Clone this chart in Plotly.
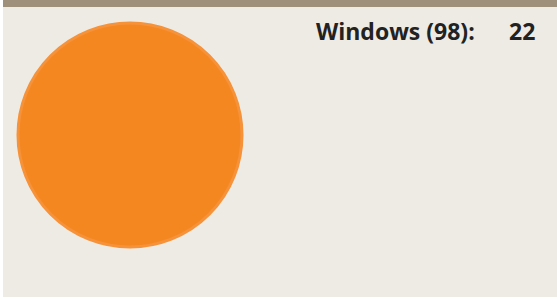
import plotly.graph_objects as go

labels = ["Windows (98)"]
values = [22]

W, H = 557, 300
fig = go.Figure()
fig.add_trace(go.Pie(
    labels=labels, values=values, sort=False,
    marker=dict(colors=["#F58720"], line=dict(color="#F6923A", width=3)),
    textinfo="none", hoverinfo="label+value", showlegend=False,
    domain=dict(x=[18 / W, 242 / W], y=[53 / H, 277 / H]),
))
fig.add_shape(type="rect", xref="paper", yref="paper", x0=3 / W, x1=1, y0=3 / H, y1=1,
              fillcolor="#EEEBE4", line=dict(width=0), layer="below")
fig.add_shape(type="rect", xref="paper", yref="paper", x0=3 / W, x1=1, y0=(H - 7) / H, y1=1,
              fillcolor="#9E907B", line=dict(width=0), layer="below")
fig.add_annotation(x=477 / W, y=1 - 31 / H, xref="paper", yref="paper", xanchor="right", yanchor="middle",
                   text="<b>%s:</b>" % labels[0], showarrow=False,
                   font=dict(family="Open Sans", size=23, color="#222222"))
fig.add_annotation(x=537 / W, y=1 - 31 / H, xref="paper", yref="paper", xanchor="right", yanchor="middle",
                   text="<b>%d</b>" % values[0], showarrow=False,
                   font=dict(family="Open Sans", size=23, color="#222222"))
fig.update_layout(width=W, height=H, margin=dict(l=0, r=0, t=0, b=0),
                  paper_bgcolor="white", plot_bgcolor="white")
fig.write_html("out.html", config={"displayModeBar": False},
               post_script="document.body.style.margin='0';")
